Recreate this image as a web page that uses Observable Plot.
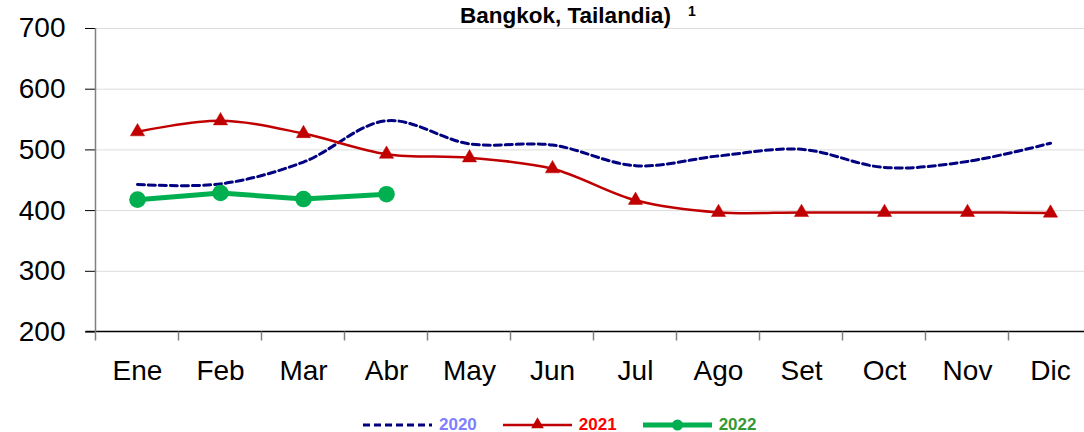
<!DOCTYPE html>
<html><head><meta charset="utf-8">
<script src="https://cdn.jsdelivr.net/npm/d3@7"></script>
<script src="https://cdn.jsdelivr.net/npm/@observablehq/plot@0.6"></script>
<style>
body{margin:0;background:#fff;overflow:hidden;font-family:"Liberation Sans",Arial,sans-serif;}
#wrap{position:relative;width:1084px;height:432px;overflow:hidden;}
#chart{position:absolute;left:0;top:0;}
#title{position:absolute;left:460px;top:5px;font-size:22.5px;font-weight:bold;line-height:22px;white-space:nowrap;color:#000;}
#title .sup{font-size:14px;position:relative;top:-7px;margin-left:17px;}
#legend{position:absolute;left:363px;top:414px;height:21px;display:flex;align-items:center;}
#legend .item{display:flex;align-items:center;margin-right:26px;}
#legend .lab{font-size:17px;font-weight:bold;margin-left:7px;}
</style></head><body>
<div id="wrap">
  <div id="chart"></div>
  <div id="title">Bangkok, Tailandia)<span class="sup">1</span></div>
  <div id="legend"></div>
</div>
<script>
const months = ["Ene","Feb","Mar","Abr","May","Jun","Jul","Ago","Set","Oct","Nov","Dic"];
const v2020 = [443, 444, 480, 548, 510, 508, 474, 490, 501, 471, 481, 511];
const v2021 = [530, 548, 527, 493, 487, 469, 417, 397, 397, 397, 397, 396];
const v2022 = [418, 429, 419, 427];
const yTicks = [200, 300, 400, 500, 600, 700];
const seriesNames = ["2020", "2021", "2022"];
const lineColors = ["#000080", "#c00000", "#00b050"];
const labelColors = ["#8080ff", "#ff0000", "#339933"];

const toRows = (vals, name) => vals.map((v, i) => ({month: months[i], value: v, series: name}));
const d2020 = toRows(v2020, seriesNames[0]);
const d2021 = toRows(v2021, seriesNames[1]);
const d2022 = toRows(v2022, seriesNames[2]);

function axisLines(index, scales) {
  const x = scales.x, y = scales.y;
  const step = x(months[1]) - x(months[0]);
  const left = x(months[0]) - step / 2;
  const right = x(months[months.length - 1]) + step / 2;
  const yb = y(yTicks[0]), yt = y(yTicks[yTicks.length - 1]);
  const g = d3.create("svg:g");
  g.append("line").attr("x1", left - 10).attr("x2", right).attr("y1", yb).attr("y2", yb)
    .attr("stroke", "#000").attr("stroke-width", 1.3);
  for (let i = 1; i <= months.length; i++) {
    const xx = left + i * step;
    g.append("line").attr("x1", xx).attr("x2", xx).attr("y1", yb).attr("y2", yb + 9)
      .attr("stroke", "#808080").attr("stroke-width", 1.5);
  }
  g.append("line").attr("x1", left).attr("x2", left).attr("y1", yt).attr("y2", yb + 9)
    .attr("stroke", "#808080").attr("stroke-width", 1.5);
  return g.node();
}

const chart = Plot.plot({
  width: 1084,
  height: 400,
  marginLeft: 95,
  marginRight: -8,
  marginTop: 28,
  marginBottom: 68.5,
  style: {fontFamily: "'Liberation Sans', Arial, sans-serif", background: "white", overflow: "visible", color: "#000"},
  x: {type: "point", domain: months, padding: 0.5, label: null},
  y: {domain: [200, 700], label: null},
  marks: [
    Plot.ruleY(yTicks.slice(1), {stroke: "#dcdcdc", strokeWidth: 1}),
    Plot.axisY({ticks: yTicks, tickSize: 10, tickPadding: 20, fontSize: 28, color: "#000", label: null, tickFormat: d => String(d)}),
    Plot.axisX({tickSize: 0, tickPadding: 28, fontSize: 28, color: "#000", label: null}),
    axisLines,
    Plot.lineY(d2020, {x: "month", y: "value", stroke: lineColors[0], strokeWidth: 3, strokeDasharray: "7,4", curve: "catmull-rom"}),
    Plot.lineY(d2021, {x: "month", y: "value", stroke: lineColors[1], strokeWidth: 2.5, curve: "catmull-rom"}),
    Plot.dot(d2021, {x: "month", y: "value", symbol: "triangle", r: 5.3, fill: lineColors[1], stroke: lineColors[1], strokeWidth: 0.5}),
    Plot.lineY(d2022, {x: "month", y: "value", stroke: lineColors[2], strokeWidth: 5}),
    Plot.dot(d2022, {x: "month", y: "value", r: 8.3, fill: lineColors[2], stroke: "none"})
  ]
});
document.getElementById("chart").appendChild(chart);

// legend
const legend = d3.select("#legend");
seriesNames.forEach((name, i) => {
  const item = legend.append("div").attr("class", "item");
  const sw = item.append("svg").attr("width", 69).attr("height", 20);
  const line = sw.append("line").attr("x1", 0).attr("x2", 69).attr("y1", 10).attr("y2", 10)
    .attr("stroke", lineColors[i]);
  if (i === 0) line.attr("stroke-width", 3).attr("stroke-dasharray", "7,4");
  if (i === 1) {
    line.attr("stroke-width", 2.5);
    sw.append("path").attr("d", d3.symbol(d3.symbolTriangle, 70)()).attr("transform", "translate(34.5,9.5)").attr("fill", lineColors[i]);
  }
  if (i === 2) {
    line.attr("stroke-width", 5);
    sw.append("circle").attr("cx", 34.5).attr("cy", 10).attr("r", 5.5).attr("fill", lineColors[i]);
  }
  item.append("span").attr("class", "lab").style("color", labelColors[i]).text(name);
});
</script>
</body></html>
